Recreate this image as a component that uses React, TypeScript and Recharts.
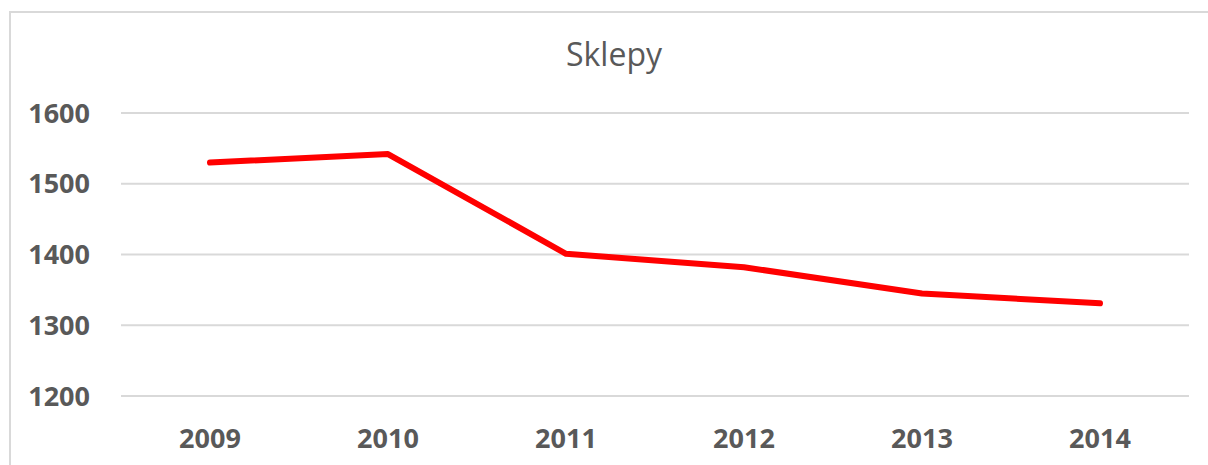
import React from 'react';
import { LineChart, Line, XAxis, YAxis, CartesianGrid } from 'recharts';

const years = ['2009', '2010', '2011', '2012', '2013', '2014'];
const shops = [1530, 1542, 1401, 1382, 1345, 1331];
const yTicks = [1200, 1300, 1400, 1500, 1600];

const data = years.map((year, i) => ({ year, shops: shops[i] }));

const textColor = '#595959';
const font = '"Open Sans", sans-serif';

const App: React.FC = () => {
  return (
    <div
      style={{
        position: 'absolute',
        left: 0,
        top: 0,
        width: 1208,
        height: 465,
        overflow: 'hidden',
        background: '#fff',
      }}
    >
      {/* chart frame, runs off the right and bottom edges */}
      <div
        style={{
          position: 'absolute',
          left: 9,
          top: 11,
          width: 1300,
          height: 600,
          border: '2px solid #d9d9d9',
          boxSizing: 'border-box',
        }}
      />
      <div
        style={{
          position: 'absolute',
          left: 0,
          top: 38,
          width: 1228,
          textAlign: 'center',
          fontFamily: font,
          fontSize: 32,
          lineHeight: '32px',
          color: textColor,
        }}
      >
        Sklepy
      </div>
      <div style={{ position: 'absolute', left: 0, top: 0 }}>
        <LineChart
          width={1208}
          height={465}
          data={data}
          margin={{ top: 113, right: 19, bottom: 0, left: 0 }}
        >
          <CartesianGrid vertical={false} stroke="#d9d9d9" strokeWidth={1.8} />
          <XAxis
            dataKey="year"
            height={69}
            padding={{ left: 89, right: 89 }}
            axisLine={false}
            tickLine={false}
            tickSize={0}
            tickMargin={33}
            tick={{ fill: textColor, fontSize: 27, fontWeight: 700, fontFamily: font }}
          />
          <YAxis
            width={121}
            domain={[1200, 1600]}
            ticks={yTicks}
            axisLine={false}
            tickLine={false}
            tickSize={0}
            tickMargin={31}
            tick={{ fill: textColor, fontSize: 27, fontWeight: 700, fontFamily: font }}
          />
          <Line
            type="linear"
            dataKey="shops"
            stroke="#ff0000"
            strokeWidth={6}
            strokeLinecap="round"
            strokeLinejoin="round"
            dot={false}
            activeDot={false}
            isAnimationActive={false}
          />
        </LineChart>
      </div>
    </div>
  );
};

export default App;
